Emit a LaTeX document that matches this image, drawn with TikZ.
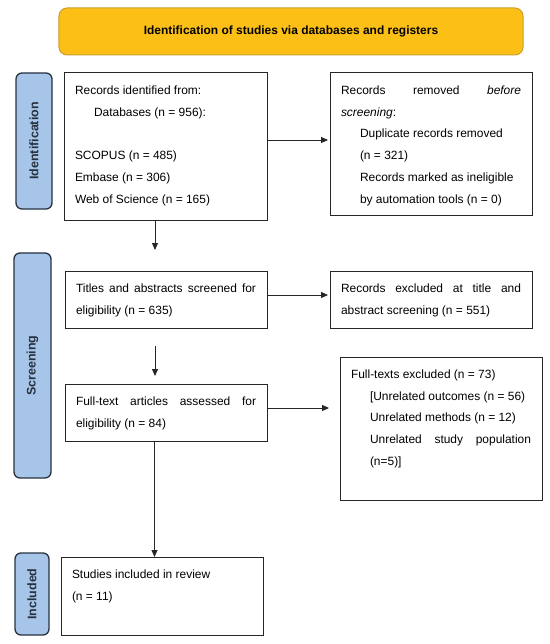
\documentclass[tikz,border=0pt]{standalone}
\usepackage{fontspec}
\setmainfont{Liberation Sans}
\usetikzlibrary{arrows.meta}
\definecolor{gold}{HTML}{FBBF16}
\definecolor{golddraw}{HTML}{C99F2C}
\definecolor{lblue}{HTML}{A7C5E9}
\definecolor{dblue}{HTML}{27323F}
\hyphenpenalty=10000 \exhyphenpenalty=10000
\newcommand{\bxt}[3]{\parbox[c][#2bp][t]{#1bp}{\fontsize{12}{21.8}\selectfont\hyphenpenalty=10000\exhyphenpenalty=10000\rule{0pt}{21.5bp}#3}}
\newcommand{\ind}{\hspace*{19bp}}
\begin{document}
\begin{tikzpicture}[x=1bp, y=-1bp,
  box/.style={draw=black!85, line width=1bp, anchor=north west, inner xsep=11bp, inner ysep=0pt, outer sep=0pt},
  phase/.style={rounded corners=6bp, fill=lblue, draw=dblue, line width=1.3bp, rotate=90, font=\fontsize{12.5}{14}\selectfont\bfseries, text=dblue, inner sep=0pt},
  arr/.style={-{Triangle[length=7bp,width=6bp]}, line width=0.9bp, draw=black!85}]
\useasboundingbox (0,0) rectangle (550,644);
% title
\node[rounded corners=8bp, fill=gold, draw=golddraw, line width=1bp, minimum width=464bp, minimum height=47bp, inner sep=0pt, font=\fontsize{12}{14}\selectfont\bfseries] (title) at (291,31.5) {Identification of studies via databases and registers};
% phase labels
\node[phase, minimum width=136bp, minimum height=36bp] (pid) at (34,141) {Identification};
\node[phase, minimum width=225bp, minimum height=37bp] (psc) at (32.5,365.5) {Screening};
\node[phase, minimum width=82bp, minimum height=34bp] (pin) at (32,594) {Included};
% boxes
\node[box] (b1) at (64,73) {\bxt{181}{147}{Records identified from:\\\ind Databases (n = 956):\\\mbox{}\\SCOPUS (n = 485)\\Embase (n = 306)\\Web of Science (n = 165)}};
\node[box] (b2) at (330,73) {\bxt{180}{142}{Records removed \textit{before}\linebreak\textit{screening}:\\\ind Duplicate records removed\\\ind (n = 321)\\\ind Records marked as ineligible\\\ind by automation tools (n = 0)}};
\node[box] (b3) at (65,271) {\bxt{180}{57}{Titles and abstracts screened for\linebreak eligibility (n = 635)}};
\node[box] (b4) at (330,271) {\bxt{180}{57}{Records excluded at title and\linebreak abstract screening (n = 551)}};
\node[box] (b5) at (65,384) {\bxt{180}{57}{Full-text articles assessed for\linebreak eligibility (n = 84)}};
\node[box] (b6) at (340,357) {\bxt{180}{143}{Full-texts excluded (n = 73)\\\ind [Unrelated outcomes (n = 56)\\\ind Unrelated methods (n = 12)\\\ind Unrelated study population\linebreak\ind (n=5)]}};
\node[box] (b7) at (61,557) {\bxt{180}{78}{Studies included in review\\(n = 11)}};
% connectors
\coordinate (p1) at (0,140);
\draw[arr, shorten >=2bp] (b1.east |- p1) -- (b2.west |- p1);
\coordinate (c2) at (155,250);
\draw[arr] (c2 |- b1.south) -- (c2);
\coordinate (p3) at (0,295);
\draw[arr, shorten >=2bp] (b3.east |- p3) -- (b4.west |- p3);
\coordinate (c4s) at (155,346);
\coordinate (c4e) at (155,376);
\draw[arr] (c4s) -- (c4e);
\coordinate (c5) at (329,408);
\draw[arr] (b5.east |- c5) -- (c5);
\coordinate (c6) at (154.5,0);
\draw[arr] (c6 |- b5.south) -- (c6 |- b7.north);
\end{tikzpicture}
\end{document}
